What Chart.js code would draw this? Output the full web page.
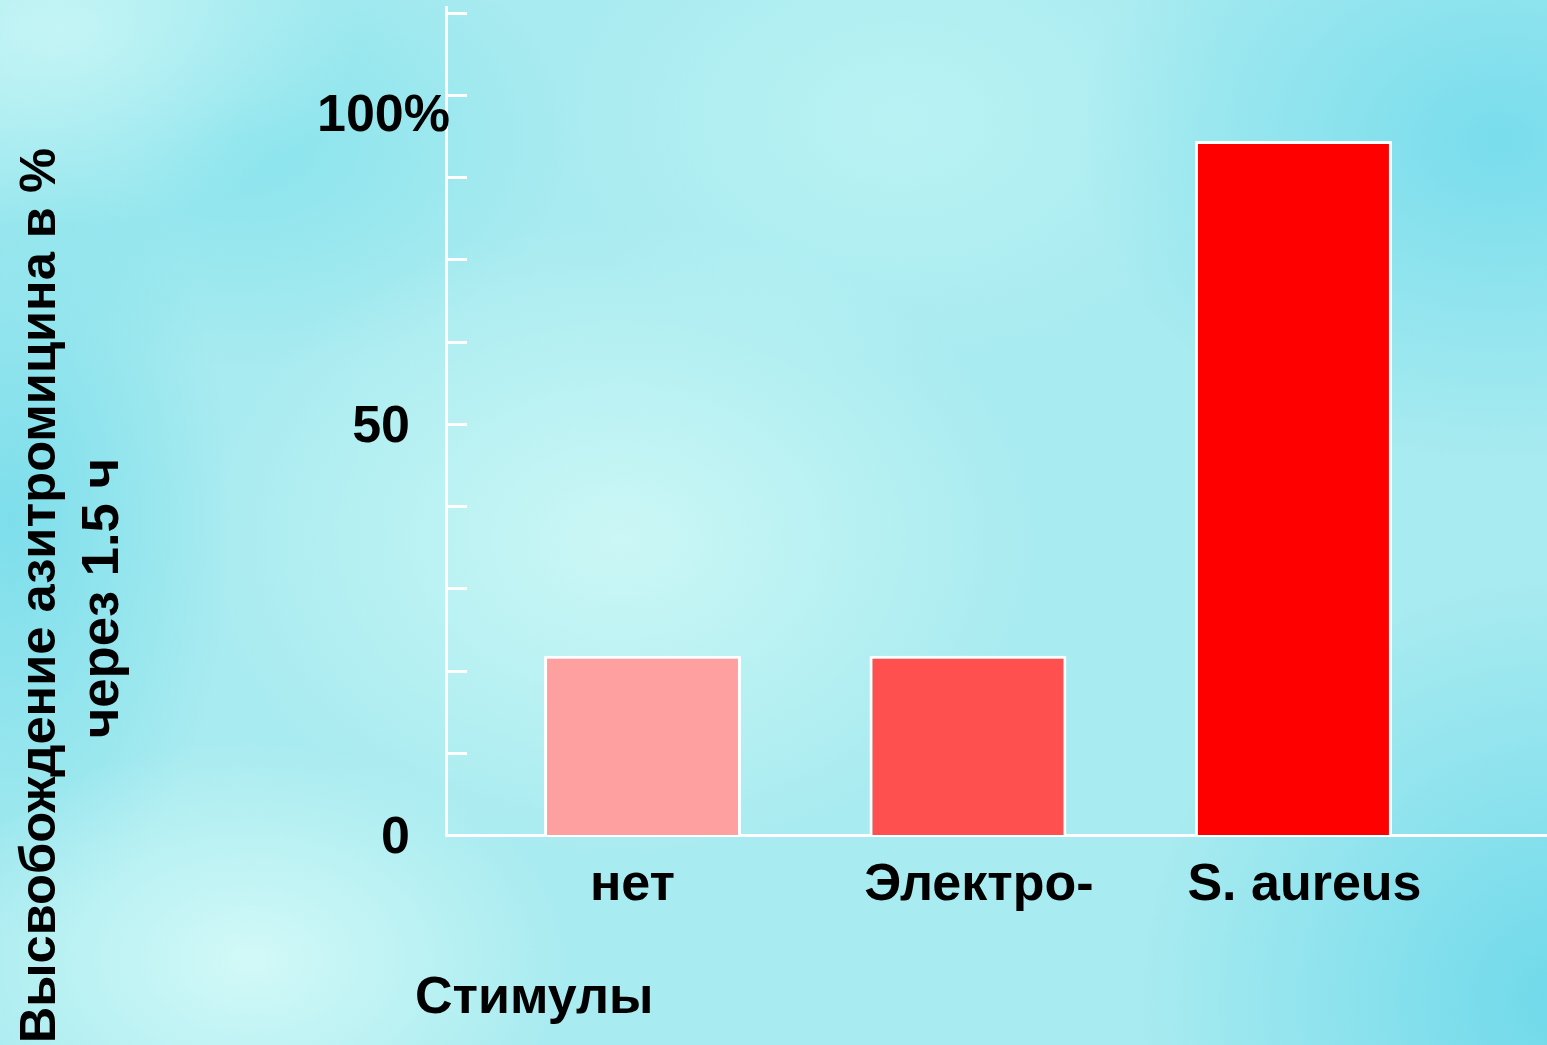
<!DOCTYPE html>
<html><head><meta charset="utf-8">
<script src="https://cdn.jsdelivr.net/npm/chart.js@4.4.1/dist/chart.umd.min.js"></script>
<style>
html,body{margin:0;padding:0;width:1547px;height:1045px;overflow:hidden;}
body{
background:
 radial-gradient(ellipse 420px 320px at 620px 540px, rgba(205,248,246,0.95), rgba(205,248,246,0)),
 radial-gradient(ellipse 320px 220px at 250px 960px, rgba(212,250,248,0.95), rgba(212,250,248,0)),
 radial-gradient(ellipse 300px 200px at 60px 30px, rgba(200,246,246,0.9), rgba(200,246,246,0)),
 radial-gradient(ellipse 330px 230px at 240px 140px, rgba(132,226,236,0.85), rgba(132,226,236,0)),
 radial-gradient(ellipse 220px 420px at 10px 520px, rgba(118,220,234,0.85), rgba(118,220,234,0)),
 radial-gradient(ellipse 420px 320px at 1500px 140px, rgba(118,220,236,0.95), rgba(118,220,236,0)),
 radial-gradient(ellipse 420px 420px at 1560px 1000px, rgba(108,216,234,0.95), rgba(108,216,234,0)),
 radial-gradient(ellipse 350px 250px at 900px 120px, rgba(190,244,244,0.8), rgba(190,244,244,0)),
 #a8ebf0;
}
#wrap{position:relative;width:1547px;height:1045px;}
</style></head><body><div id="wrap"><canvas id="c" width="1547" height="1045"></canvas></div>
<script>
// ---- data ----
const categories = ['нет', 'Электро-', 'S. aureus'];
const releasePercent = [21.8, 21.8, 84.4];
const barColors = ['#FFA0A0', '#FF5050', '#FF0000'];
const yTickValues = [0, 10, 20, 30, 40, 50, 60, 70, 80, 90, 100];
const yLabelValues = [0, 50, 90];
const yLabelTexts = ['0', '50', '100%'];
const yTitleLines = ['Высвобождение азитромицина в %', 'через 1.5 ч'];
const xTitle = 'Стимулы';

// ---- styles ----
const FAMILY = '"Liberation Sans", Arial, sans-serif';
const FONT = 'bold 52px ' + FAMILY;
const yLabelOffsets = [[0, 4], [0, 4], [40, 22]];
const xLabelOffsets = [-10, 11, 11];
const yTitleSpans = [895, 280];

const textPlugin = {
  id: 'textPlugin',
  afterDraw(chart) {
    const { ctx, scales: { x, y }, chartArea } = chart;
    ctx.save();
    // inner tick marks
    ctx.strokeStyle = '#ffffff';
    ctx.lineWidth = 3;
    yTickValues.forEach(v => {
      const py = Math.round(y.getPixelForValue(v)) + 0.5;
      ctx.beginPath();
      ctx.moveTo(chartArea.left, py);
      ctx.lineTo(chartArea.left + 21, py);
      ctx.stroke();
    });
    ctx.fillStyle = '#000';
    ctx.font = FONT;
    // y tick labels
    ctx.textAlign = 'right';
    ctx.textBaseline = 'middle';
    yLabelValues.forEach((v, i) => {
      ctx.fillText(yLabelTexts[i], 410 + yLabelOffsets[i][0], y.getPixelForValue(v) + yLabelOffsets[i][1]);
    });
    // x tick labels
    ctx.textAlign = 'center';
    ctx.textBaseline = 'alphabetic';
    categories.forEach((c, i) => {
      ctx.fillText(c, x.getPixelForValue(i) + xLabelOffsets[i], 900);
    });
    // x title
    ctx.textAlign = 'left';
    ctx.fillText(xTitle, 415, 1013);
    // y title (rotated)
    ctx.textAlign = 'right';
    [[55, 148], [118, 458]].forEach((p, i) => {
      ctx.save();
      ctx.font = FONT;
      const w = ctx.measureText(yTitleLines[i]).width;
      const size = Math.min(54, 52 * yTitleSpans[i] / w);
      ctx.font = 'bold ' + size.toFixed(1) + 'px ' + FAMILY;
      ctx.translate(p[0], p[1]);
      ctx.rotate(-Math.PI / 2);
      ctx.fillText(yTitleLines[i], 0, 0);
      ctx.restore();
    });
    ctx.restore();
  }
};

new Chart(document.getElementById('c'), {
  type: 'bar',
  data: {
    datasets: [{
      data: releasePercent.map((v, i) => ({ x: i, y: v })),
      backgroundColor: barColors,
      borderColor: '#ffffff',
      borderWidth: 3,
      borderSkipped: 'bottom',
      barPercentage: 0.605,
      categoryPercentage: 1.0
    }]
  },
  options: {
    responsive: false,
    animation: false,
    layout: { padding: { top: 7, right: 0, left: 0, bottom: 0 } },
    plugins: { legend: { display: false }, tooltip: { enabled: false } },
    scales: {
      x: {
        type: 'linear',
        bounds: 'data',
        offset: false,
        min: -0.6037,
        max: 2.779,
        ticks: { display: false, stepSize: 1 },
        afterBuildTicks: s => { s.ticks = categories.map((c, i) => ({ value: i })); },
        afterFit: s => { s.height = 210; },
        grid: { display: false, drawTicks: false },
        border: { display: true, color: '#ffffff', width: 3 }
      },
      y: {
        min: 0,
        max: 100.7,
        afterBuildTicks: s => { s.ticks = yTickValues.map(v => ({ value: v })); },
        afterFit: s => { s.width = 446; },
        ticks: { display: false },
        grid: { display: false, drawTicks: false },
        border: { display: true, color: '#ffffff', width: 3 }
      }
    }
  },
  plugins: [textPlugin]
});
</script>
</body></html>
